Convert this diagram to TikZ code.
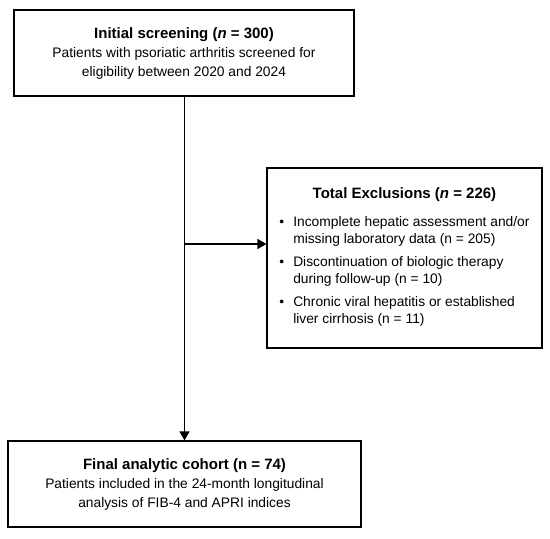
\documentclass[tikz,border=0pt]{standalone}
\usepackage{fontspec}
\setmainfont{Liberation Sans}
\usetikzlibrary{arrows.meta}
\newcommand{\boxtitle}[1]{{\fontsize{15}{19}\selectfont\bfseries #1}}
\tikzset{
  flowbox/.style={draw, line width=1.1pt, rectangle, align=center, inner sep=0pt,
    font=\fontsize{13.8}{19}\selectfont},
  flowarrow/.style={draw, line width=1.1pt, -{Triangle[length=9pt,width=10pt]}}
}
\begin{document}
\begin{tikzpicture}[x=1pt,y=-1pt]
\useasboundingbox[fill=white] (0,0) rectangle (550,539);
\node[flowbox, minimum width=340, minimum height=86] (screen) at (184,53)
  {\boxtitle{Initial screening (\textit{n} = 300)}\\
   Patients with psoriatic arthritis screened for\\
   eligibility between 2020 and 2024};
\node[flowbox, minimum width=275, minimum height=180] (excl) at (404.5,258)
  {\boxtitle{Total Exclusions (\textit{n} = 226)}\\[12pt]
   \fontsize{13.8}{17}\selectfont
   \begin{tabular}{@{}l@{\hspace{9pt}}l@{}}
   \textbullet & Incomplete hepatic assessment and/or\\
               & missing laboratory data (n = 205)\\[6pt]
   \textbullet & Discontinuation of biologic therapy\\
               & during follow-up (n = 10)\\[6pt]
   \textbullet & Chronic viral hepatitis or established\\
               & liver cirrhosis (n = 11)
   \end{tabular}};
\node[flowbox, minimum width=353, minimum height=86] (final) at (184.5,484)
  {\boxtitle{Final analytic cohort (n = 74)}\\
   Patients included in the 24-month longitudinal\\
   analysis of FIB-4 and APRI indices};
\coordinate (split) at (184.5,244);

\path[draw, line width=1.1pt] (screen.south -| split) -- (split);
\path[flowarrow] (split) -- (final.north -| split);
\path[flowarrow] (split) -- (excl.west |- split);
\end{tikzpicture}
\end{document}
